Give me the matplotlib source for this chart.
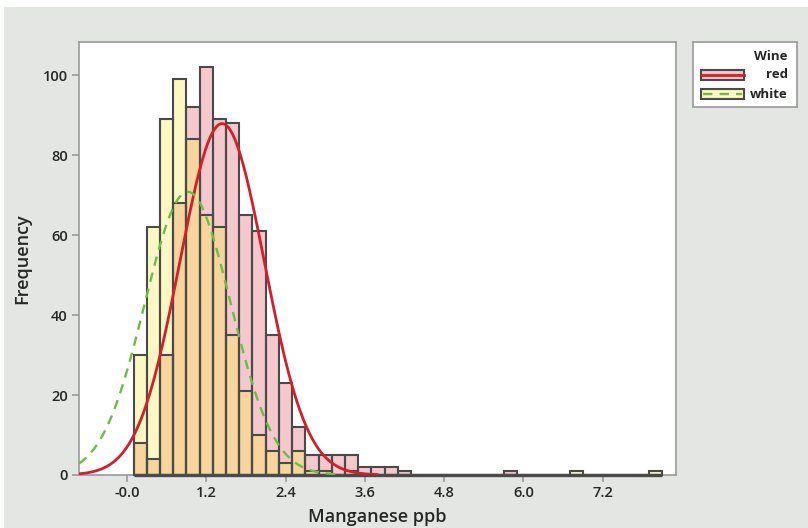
import numpy as np
import matplotlib.pyplot as plt
from matplotlib.patches import Rectangle

plt.rcParams['font.family'] = ['Open Sans', 'DejaVu Sans']

# bins of width 0.2, centres 0.2 .. 8.0
bin_width = 0.2
bin_centers = np.round(np.arange(0.2, 8.01, 0.2), 2)

red_counts = [8, 4, 30, 68, 92, 102, 89, 88, 65, 61,
              35, 23, 12, 5, 5, 5, 5, 2, 2, 2,
              1, 0, 0, 0, 0, 0, 0, 0, 1, 0,
              0, 0, 0, 0, 0, 0, 0, 0, 0, 0]
white_counts = [30, 62, 89, 99, 84, 65, 62, 35, 21, 10,
                6, 3, 6, 1, 1, 0, 1, 0, 0, 0,
                0, 0, 0, 0, 0, 0, 0, 0, 0, 0,
                0, 0, 0, 1, 0, 0, 0, 0, 0, 1]

# normal fit parameters
red_mu, red_sigma = 1.44, 0.64
white_mu, white_sigma = 0.92, 0.65

x_ticks = [0.0, 1.2, 2.4, 3.6, 4.8, 6.0, 7.2]
x_ticklabels = ['-0.0', '1.2', '2.4', '3.6', '4.8', '6.0', '7.2']
y_ticks = [0, 20, 40, 60, 80, 100]

pink = '#F5C8CC'
yellow = '#FDF7C4'
peach = '#F8D59C'
edge = '#4A4A4A'
red_line = '#D21F2B'
green_line = '#6CBD45'
frame = '#9A9A9A'
txt = '#262626'

fig = plt.figure(figsize=(8.08, 5.28), dpi=100)
fig.patch.set_facecolor('white')
fig.add_artist(Rectangle((4 / 808, 0), 1, 1 - 7 / 528, transform=fig.transFigure,
                         facecolor='#E4E6E4', edgecolor='none', zorder=0))

ax = fig.add_axes([79 / 808, 1 - 475 / 528, (676 - 79) / 808, (475 - 42) / 528])
ax.set_facecolor('white')

red = np.array(red_counts)
white = np.array(white_counts)
both = np.minimum(red, white)

ax.bar(bin_centers, red, width=bin_width, color=pink, linewidth=0, zorder=1)
ax.bar(bin_centers, white, width=bin_width, color=yellow, linewidth=0, zorder=1)
ax.bar(bin_centers, both, width=bin_width, color=peach, linewidth=0, zorder=2)
ax.bar(bin_centers, red, width=bin_width, fill=False, edgecolor=edge, linewidth=1.5,
       zorder=3, clip_on=False)
ax.bar(bin_centers, white, width=bin_width, fill=False, edgecolor=edge, linewidth=1.5,
       zorder=3, clip_on=False)
# outline of the empty bins along the base
ax.hlines(0, bin_centers[0] - bin_width / 2, bin_centers[-1] + bin_width / 2,
          color=edge, lw=2.4, zorder=3, clip_on=False)

xmin, xmax = -0.726, 8.31
xs = np.linspace(xmin, xmax, 800)


def fit_curve(counts, mu, sigma):
    n = np.sum(counts)
    y = n * bin_width / (sigma * np.sqrt(2 * np.pi)) * np.exp(-0.5 * ((xs - mu) / sigma) ** 2)
    y[y < 0.1] = np.nan
    return y


ax.plot(xs, fit_curve(red, red_mu, red_sigma), color=red_line, lw=2.0, zorder=4)
ax.plot(xs, fit_curve(white, white_mu, white_sigma), color=green_line, lw=1.7,
        dashes=(4, 3), zorder=4)

ax.set_xlim(xmin, xmax)
ax.set_ylim(0, 108.3)
ax.set_xticks(x_ticks)
ax.set_xticklabels(x_ticklabels)
ax.set_yticks(y_ticks)
for s in ax.spines.values():
    s.set_color(frame)
    s.set_linewidth(1.2)
ax.tick_params(direction='out', length=5, width=1.2, color=frame, labelsize=10.5,
               labelcolor=txt, pad=3)
for lab in ax.get_xticklabels() + ax.get_yticklabels():
    lab.set_fontweight('semibold')
ax.set_xlabel('Manganese ppb', fontsize=13, color=txt, fontweight='semibold', labelpad=6)
ax.set_ylabel('Frequency', fontsize=13, color=txt, fontweight='semibold', labelpad=8)

# legend box
lg = fig.add_axes([693 / 808, 1 - 107 / 528, (797 - 693) / 808, (107 - 42) / 528])
lg.set_xlim(0, 104)
lg.set_ylim(65, 0)
lg.set_xticks([])
lg.set_yticks([])
lg.set_facecolor('white')
for s in lg.spines.values():
    s.set_color(frame)
    s.set_linewidth(1.2)
lg.text(95, 15, 'Wine', ha='right', va='center', fontsize=9.5, fontweight='bold', color=txt)
entries = [('red', pink, red_line, None, 33), ('white', yellow, green_line, (4, 3), 52)]
for name, fc, lc, ds, yc in entries:
    lg.add_patch(Rectangle((8, yc - 5), 43, 10, facecolor=fc, edgecolor=edge, lw=1.5))
    if ds is None:
        lg.plot([8, 51], [yc, yc], color=lc, lw=2.0)
    else:
        lg.plot([10, 49], [yc, yc], color=lc, lw=1.7, dashes=ds)
    lg.text(95, yc, name, ha='right', va='center', fontsize=9.5, fontweight='bold', color=txt)

fig.savefig('out.png', dpi=100)
